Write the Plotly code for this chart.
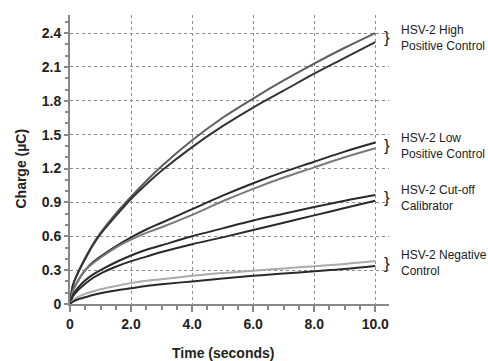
import plotly.graph_objects as go

# Time points (seconds)
time_s = [0, 0.1, 0.25, 0.5, 0.75, 1, 1.5, 2, 2.5, 3, 4, 5, 6, 7, 8, 9, 10]

# Charge (µC)
high_a = [0, 0.17, 0.27, 0.41, 0.53, 0.63, 0.80, 0.95, 1.09, 1.22, 1.45, 1.65, 1.82, 1.98, 2.13, 2.27, 2.40]
high_b = [0, 0.17, 0.27, 0.40, 0.52, 0.62, 0.78, 0.93, 1.06, 1.18, 1.39, 1.575, 1.74, 1.89, 2.04, 2.18, 2.32]
low_a = [0, 0.12, 0.20, 0.30, 0.37, 0.42, 0.51, 0.59, 0.66, 0.72, 0.84, 0.96, 1.07, 1.17, 1.26, 1.35, 1.43]
low_b = [0, 0.12, 0.20, 0.30, 0.36, 0.41, 0.50, 0.57, 0.63, 0.68, 0.79, 0.91, 1.02, 1.12, 1.21, 1.30, 1.38]
cut_a = [0, 0.08, 0.14, 0.21, 0.26, 0.30, 0.37, 0.43, 0.48, 0.52, 0.60, 0.67, 0.74, 0.80, 0.86, 0.915, 0.965]
cut_b = [0, 0.07, 0.12, 0.18, 0.23, 0.27, 0.33, 0.38, 0.42, 0.46, 0.53, 0.59, 0.655, 0.72, 0.785, 0.85, 0.915]
neg_a = [0, 0.03, 0.06, 0.09, 0.11, 0.13, 0.16, 0.185, 0.205, 0.22, 0.25, 0.275, 0.295, 0.315, 0.335, 0.355, 0.38]
neg_b = [0, 0.02, 0.04, 0.06, 0.08, 0.095, 0.12, 0.14, 0.16, 0.175, 0.20, 0.225, 0.25, 0.27, 0.29, 0.31, 0.336]

series = [
    (high_a, "#5e5e5e"), (high_b, "#333333"),
    (low_a, "#2a2a2a"), (low_b, "#7a7a7a"),
    (cut_a, "#2a2a2a"), (cut_b, "#2a2a2a"),
    (neg_a, "#ababab"), (neg_b, "#2a2a2a"),
]

x_ticks = [0, 2, 4, 6, 8, 10]
x_labels = ["0", "2.0", "4.0", "6.0", "8.0", "10.0"]
y_ticks = [0, 0.3, 0.6, 0.9, 1.2, 1.5, 1.8, 2.1, 2.4]
y_labels = ["0", "0.3", "0.6", "0.9", "1.2", "1.5", "1.8", "2.1", "2.4"]

labels = ["HSV-2 High<br>Positive Control", "HSV-2 Low<br>Positive Control",
          "HSV-2 Cut-off<br>Calibrator", "HSV-2 Negative<br>Control"]
label_y = [2.36, 1.40, 0.94, 0.36]

fig = go.Figure()
for vals, col in series:
    fig.add_trace(go.Scatter(x=time_s, y=vals, mode="lines",
                             line=dict(color=col, width=2, shape="spline", smoothing=1.0),
                             showlegend=False, hoverinfo="skip"))

for txt, yy in zip(labels, label_y):
    fig.add_annotation(x=10.38, y=yy, xref="x", yref="y", text="}", showarrow=False,
                       font=dict(family="Liberation Sans, Arial", size=17, color="#222"),
                       xanchor="center", yanchor="middle")
    fig.add_annotation(x=1.03, y=yy, xref="paper", yref="y", text=txt, showarrow=False,
                       align="left", xanchor="left", yanchor="middle",
                       font=dict(family="Liberation Sans, Arial", size=12, color="#222"))

fig.add_annotation(x=5, y=0, xref="x", yref="paper", yshift=-49, text="<b>Time (seconds)</b>",
                   showarrow=False, xanchor="center", yanchor="middle",
                   font=dict(family="Liberation Sans, Arial", size=14, color="#222"))
fig.add_annotation(x=0, y=1.2, xref="paper", yref="y", xshift=-49, text="<b>Charge (µC)</b>",
                   showarrow=False, textangle=-90, xanchor="center", yanchor="middle",
                   font=dict(family="Liberation Sans, Arial", size=14, color="#222"))

fig.update_layout(
    width=488, height=361,
    margin=dict(l=70, r=99, t=15, b=57),
    paper_bgcolor="white", plot_bgcolor="white",
    font=dict(family="Liberation Sans, Arial", color="#222"),
)
fig.update_xaxes(range=[0, 10.45], tickvals=x_ticks, ticktext=x_labels,
                 tickfont=dict(size=14, family="Liberation Sans, Arial", weight="bold", color="#222"),
                 showline=True, linecolor="#888", linewidth=2,
                 ticks="outside", ticklen=6, tickcolor="#888", tickwidth=1.5,
                 showgrid=True, gridcolor="#8c8c8c", griddash="dot", gridwidth=1.2,
                 zeroline=False, layer="below traces",
                 minor=dict(dtick=0.5, tick0=0, ticks="outside", ticklen=4, tickcolor="#888", showgrid=False))
fig.update_yaxes(range=[0, 2.56], tickvals=y_ticks, ticktext=y_labels,
                 tickfont=dict(size=14, family="Liberation Sans, Arial", weight="bold", color="#222"),
                 showline=True, linecolor="#888", linewidth=2,
                 ticks="outside", ticklen=4, tickcolor="#888", tickwidth=1.5,
                 showgrid=True, gridcolor="#8c8c8c", griddash="dot", gridwidth=1.2,
                 zeroline=False,
                 minor=dict(dtick=0.1, tick0=0, ticks="outside", ticklen=3, tickcolor="#888", showgrid=False))

fig.write_html("out.html", config={"displayModeBar": False},
               post_script="document.body.style.margin='0';")
